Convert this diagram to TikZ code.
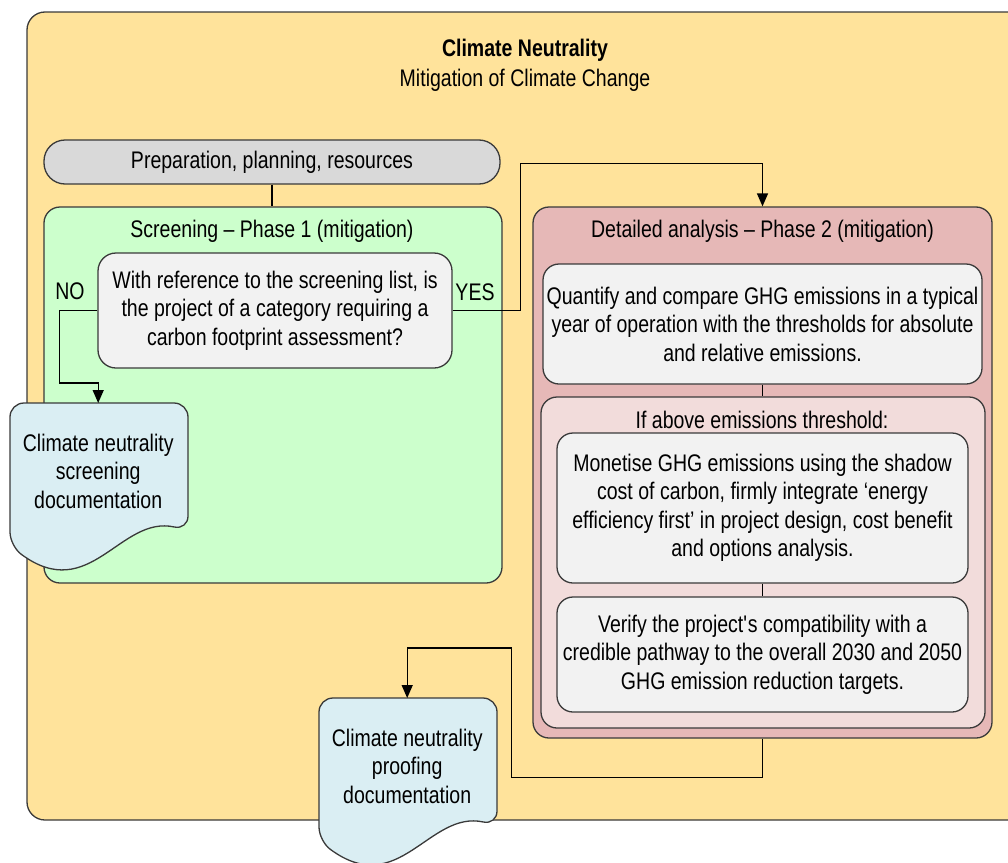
\documentclass[tikz,border=0pt]{standalone}
\usepackage{fontspec}
\setmainfont{Liberation Sans}[FakeStretch=0.813]
\usetikzlibrary{arrows.meta,calc}
\definecolor{frameyellow}{HTML}{FFE39B}
\definecolor{screengreen}{HTML}{CCFFCC}
\definecolor{prepgray}{HTML}{D9D9D9}
\definecolor{boxgray}{HTML}{F2F2F2}
\definecolor{docblue}{HTML}{DAEEF3}
\definecolor{phasered}{HTML}{E6B8B7}
\definecolor{phasepink}{HTML}{F2DCDB}
\definecolor{edgegray}{HTML}{3A3A3A}
\begin{document}
\begin{tikzpicture}[x=1pt,y=-1pt,
  font=\fontsize{24}{28.5}\selectfont,
  box/.style={draw=edgegray, line width=1.3pt, rounded corners=16pt,
    inner sep=0pt, align=center},
  label/.style={inner sep=0pt, align=center},
  docshape/.style={draw=edgegray, line width=1.3pt, fill=docblue, rounded corners=14pt},
  docnode/.style={inner sep=0pt, align=center, minimum width=176pt, minimum height=136pt},
  link/.style={draw=black, line width=1.4pt},
  flow/.style={link, -{Triangle[width=11pt,length=13pt]}}
]
\useasboundingbox (0,0) rectangle (1008,862);

% outer frame
\node[box, fill=frameyellow, rounded corners=18pt, minimum width=1013pt,
  minimum height=808pt] (frame) at (533.5,416) {};
\node[label, font=\fontsize{24}{28}\selectfont\bfseries] (title) at (525,50) {Climate Neutrality};
\node[label] (subtitle) at (525,80) {Mitigation of Climate Change};

% preparation bar
\node[box, fill=prepgray, rounded corners=21pt, minimum width=456pt,
  minimum height=44pt] (prep) at (272,162) {Preparation, planning, resources};

% phase 1
\node[box, fill=screengreen, minimum width=458pt, minimum height=376pt] (green) at (273,395) {};
\node[label] (greentitle) at (272,231) {Screening -- Phase 1 (mitigation)};
\node[box, fill=boxgray, rounded corners=18pt, minimum width=354pt, minimum height=115pt]
  (decision) at (275,310.5)
  {With reference to the screening list, is\\the project of a category requiring a\\carbon footprint assessment?};
\node[label] (nolabel) at (70,291) {NO};
\node[label] (yeslabel) at (475,292) {YES};

% screening documentation
\path[docshape, shift={(10,403)}]
  (0,70) -- (0,0) -- (178,0) -- (178,127)
  .. controls (110,112) and (80,202) .. (0,143) -- cycle;
\node[docnode, anchor=north west] (scrdoc) at (10,403)
  {Climate neutrality\\screening\\documentation};

% phase 2
\node[box, fill=phasered, minimum width=459pt, minimum height=531pt] (red) at (762.5,472.5) {};
\node[label] (redtitle) at (762.5,231) {Detailed analysis -- Phase 2 (mitigation)};
\node[box, fill=boxgray, minimum width=439pt, minimum height=120pt] (quant) at (762.5,324)
  {Quantify and compare GHG emissions in a typical\\year of operation with the thresholds for absolute\\and relative emissions.};
\node[box, fill=phasepink, minimum width=444pt, minimum height=331pt] (pink) at (763,562.5) {};
\node[label] (pinktitle) at (762,420) {If above emissions threshold:};
\node[box, fill=boxgray, minimum width=411pt, minimum height=150pt] (monet) at (762.5,508)
  {Monetise GHG emissions using the shadow\\cost of carbon, firmly integrate ‘energy\\efficiency first’ in project design, cost benefit\\and options analysis.};
\node[box, fill=boxgray, minimum width=411pt, minimum height=115pt] (verify) at (762.5,654.5)
  {Verify the project\textquotesingle s compatibility with a\\credible pathway to the overall 2030 and 2050\\GHG emission reduction targets.};

% proofing documentation
\path[docshape, shift={(319,698)}]
  (0,70) -- (0,0) -- (178,0) -- (178,127)
  .. controls (110,112) and (80,202) .. (0,143) -- cycle;
\node[docnode, anchor=north west] (proofdoc) at (319,698)
  {Climate neutrality\\proofing\\documentation};

% connectors
\draw[link] (prep.south) -- (prep.south |- green.north);
\draw[link] (quant.south) -- (quant.south |- pink.north);
\draw[link] (monet.south) -- (verify.north);
\draw[flow] (decision.west) -- ++(-38,0) |- ($(scrdoc.north)+(0,-20)$) -- (scrdoc.north);
\draw[flow] (decision.east) -- ++(68,0) |- ($(red.north)+(0,-43)$) -- (red.north);
\draw[flow] (red.south) -- ++(0,39) -| ($(proofdoc.north)+(104,-50)$) -| (proofdoc.north);
\end{tikzpicture}
\end{document}
